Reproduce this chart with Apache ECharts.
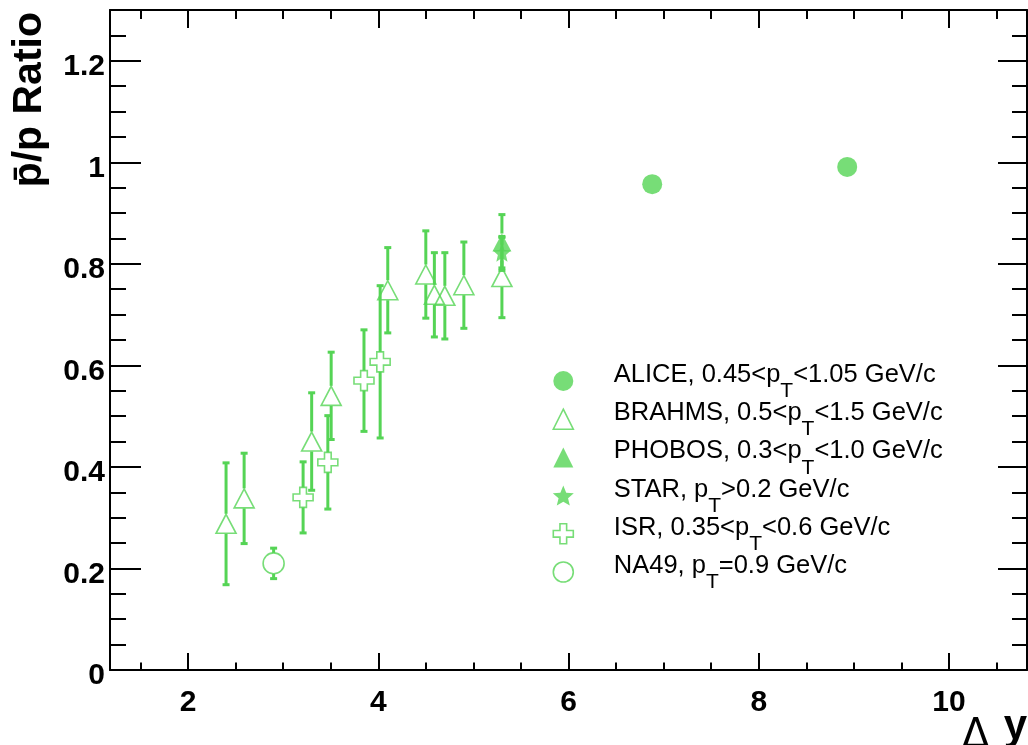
<!DOCTYPE html>
<html>
<head>
<meta charset="utf-8">
<script src="https://cdn.jsdelivr.net/npm/echarts@6/dist/echarts.min.js"></script>
<style>
  html, body { margin: 0; padding: 0; background: #ffffff; }
  #chart { width: 1028px; height: 745px; }
</style>
</head>
<body>
<div id="chart"></div>
<script>
// Antiproton-to-proton ratio versus rapidity interval, by experiment

const aliceDy = [6.88, 8.93];
const aliceRatio = [0.957, 0.991];
const aliceErr = [0.006, 0.006];

const brahmsDy = [2.40, 2.59, 3.30, 3.505, 4.10, 4.50, 4.59, 4.70, 4.90, 5.30];
const brahmsRatio = [0.288, 0.338, 0.450, 0.540, 0.748, 0.779, 0.739, 0.737, 0.758, 0.774];
const brahmsErr = [0.120, 0.089, 0.096, 0.086, 0.084, 0.086, 0.083, 0.085, 0.085, 0.080];

const phobosDy = [5.30];
const phobosRatio = [0.842];
const phobosErr = [0.055];

const starDy = [5.30];
const starRatio = [0.822];
const starErr = [0.030];

const isrDy = [3.21, 3.47, 3.85, 4.02];
const isrRatio = [0.340, 0.409, 0.570, 0.607];
const isrErr = [0.070, 0.092, 0.100, 0.150];

const na49Dy = [2.90];
const na49Ratio = [0.210];
const na49Err = [0.030];

const seriesNames = ['ALICE', 'BRAHMS', 'PHOBOS', 'STAR', 'ISR', 'NA49'];
const legendLabels = [
  '{m|ALICE, 0.45<p}{s|T}{m|<1.05 GeV/c}',
  '{m|BRAHMS, 0.5<p}{s|T}{m|<1.5 GeV/c}',
  '{m|PHOBOS, 0.3<p}{s|T}{m|<1.0 GeV/c}',
  '{m|STAR, p}{s|T}{m|>0.2 GeV/c}',
  '{m|ISR, 0.35<p}{s|T}{m|<0.6 GeV/c}',
  '{m|NA49, p}{s|T}{m|=0.9 GeV/c}'
];

const xMajorTicks = [2, 4, 6, 8, 10];
const xMinorTicks = [1.5, 2.5, 3, 3.5, 4.5, 5, 5.5, 6.5, 7, 7.5, 8.5, 9, 9.5, 10.5];
const yMajorTicks = [0, 0.2, 0.4, 0.6, 0.8, 1.0, 1.2];
const yMinorTicks = [0.05, 0.1, 0.15, 0.25, 0.3, 0.35, 0.45, 0.5, 0.55, 0.65, 0.7, 0.75,
                     0.85, 0.9, 0.95, 1.05, 1.1, 1.15, 1.25];

const GREEN = '#55d455';
const FONT = 'Liberation Sans';

const TRIANGLE = 'path://M1,0L2,2L0,2Z';
const CROSS = 'path://M1,0L2,0L2,1L3,1L3,2L2,2L2,3L1,3L1,2L0,2L0,1L1,1Z';
function starSymbol() {
  const p = [];
  for (let k = 0; k < 10; k++) {
    const a = -Math.PI / 2 + k * Math.PI / 5;
    const r = k % 2 === 0 ? 1 : 0.45;
    p.push((r * Math.cos(a)).toFixed(3) + ',' + (r * Math.sin(a)).toFixed(3));
  }
  return 'path://M' + p.join('L') + 'Z';
}
const STAR = starSymbol();

function points(xs, ys) { return xs.map((x, i) => [x, ys[i]]); }

// error bar rows: [x, y, err, gap in px around the marker]
function errRows(xs, ys, es, gap) { return xs.map((x, i) => [x, ys[i], es[i], gap]); }
const errorData = [].concat(
  errRows(aliceDy, aliceRatio, aliceErr, 10),
  errRows(brahmsDy, brahmsRatio, brahmsErr, 10),
  errRows(phobosDy, phobosRatio, phobosErr, 9),
  errRows(starDy, starRatio, starErr, 8),
  errRows(isrDy, isrRatio, isrErr, 10),
  errRows(na49Dy, na49Ratio, na49Err, 10.5)
);

function renderErrorBar(params, api) {
  const x = api.value(0), y = api.value(1), e = api.value(2), gap = api.value(3);
  const c = api.coord([x, y]);
  const top = api.coord([x, y + e])[1];
  const bot = api.coord([x, y - e])[1];
  const st = { stroke: GREEN, lineWidth: 3 };
  const cap = 3.5;
  const children = [];
  if (c[1] - gap > top) {
    children.push({ type: 'line', shape: { x1: c[0], y1: c[1] - gap, x2: c[0], y2: top }, style: st });
    children.push({ type: 'line', shape: { x1: c[0] - cap, y1: top, x2: c[0] + cap, y2: top }, style: st });
  }
  if (c[1] + gap < bot) {
    children.push({ type: 'line', shape: { x1: c[0], y1: c[1] + gap, x2: c[0], y2: bot }, style: st });
    children.push({ type: 'line', shape: { x1: c[0] - cap, y1: bot, x2: c[0] + cap, y2: bot }, style: st });
  }
  return { type: 'group', children: children };
}

const openStyle = { color: 'rgba(0,0,0,0)', borderColor: GREEN, borderWidth: 1.6 };
const filledStyle = { color: GREEN };

const tickLine = { color: '#000', width: 2 };
const tickFont = { fontFamily: FONT, fontWeight: 'bold', fontSize: 30, color: '#000' };

function xAxisDef(position, ticks, len, withLine, withLabels) {
  return {
    type: 'value', position: position, min: 1.18, max: 10.82,
    axisLine: { show: withLine, onZero: false, lineStyle: { color: '#000', width: 2 } },
    axisTick: { show: true, inside: true, length: len, customValues: ticks, lineStyle: tickLine },
    axisLabel: withLabels ? Object.assign({ show: true, customValues: ticks, margin: 18 }, tickFont)
                          : { show: false },
    splitLine: { show: false }
  };
}
function yAxisDef(position, ticks, len, withLine, withLabels) {
  return {
    type: 'value', position: position, min: 0, max: 1.3,
    axisLine: { show: withLine, onZero: false, lineStyle: { color: '#000', width: 2 } },
    axisTick: { show: true, inside: true, length: len, customValues: ticks, lineStyle: tickLine },
    axisLabel: withLabels ? Object.assign({
      show: true, customValues: ticks, margin: 5,
      formatter: v => '{t|' + (v === 0 ? '0' : String(Math.round(v * 10) / 10)) + '}',
      rich: { t: Object.assign({ lineHeight: 30, padding: [12, 0, 0, 0] }, tickFont) }
    }, tickFont) : { show: false },
    splitLine: { show: false }
  };
}

const chart = echarts.init(document.getElementById('chart'), null, { renderer: 'canvas' });

chart.setOption({
  animation: false,
  backgroundColor: '#ffffff',
  grid: { left: 110, right: 1, top: 10, bottom: 75 },
  xAxis: [
    xAxisDef('bottom', xMajorTicks, 17, true, true),
    xAxisDef('bottom', xMinorTicks, 7.5, false, false),
    xAxisDef('top', xMajorTicks, 18, true, false),
    xAxisDef('top', xMinorTicks, 9, false, false)
  ],
  yAxis: [
    yAxisDef('left', yMajorTicks, 31, true, true),
    yAxisDef('left', yMinorTicks, 16, false, false),
    yAxisDef('right', yMajorTicks, 29, true, false),
    yAxisDef('right', yMinorTicks, 15, false, false)
  ],
  legend: {
    orient: 'vertical', left: 552.5, top: 360, padding: 0, itemGap: -3.8,
    itemWidth: 91, itemHeight: 20, selectedMode: false,
    data: [
      { name: 'ALICE' },
      { name: 'BRAHMS', itemStyle: { borderWidth: 1.6 } },
      { name: 'PHOBOS' },
      { name: 'STAR' },
      { name: 'ISR', itemStyle: { borderWidth: 1.6 } },
      { name: 'NA49', itemStyle: { borderWidth: 1.6 } }
    ],
    formatter: name => legendLabels[seriesNames.indexOf(name)],
    textStyle: {
      color: '#000', fontFamily: FONT, fontSize: 25.5,
      rich: {
        m: { color: '#000', fontFamily: FONT, fontSize: 25.5, lineHeight: 26, padding: [0, 0, 12, 0] },
        s: { color: '#000', fontFamily: FONT, fontSize: 21, lineHeight: 17, padding: [21, 0, 0, 0] }
      }
    }
  },
  graphic: [
    {
      type: 'text', x: 9, y: 12, rotation: Math.PI / 2, silent: true,
      style: {
        text: 'p\u0304/p Ratio', fill: '#000', fontFamily: FONT, fontWeight: 'bold', fontSize: 41,
        align: 'right', verticalAlign: 'top'
      }
    },
    {
      type: 'text', x: 962, y: 757, silent: true,
      style: { text: '\u0394', fill: '#000', fontFamily: 'DejaVu Sans', fontSize: 40, align: 'left', verticalAlign: 'bottom' }
    },
    {
      type: 'text', x: 1027, y: 748, silent: true,
      style: { text: 'y', fill: '#000', fontFamily: FONT, fontWeight: 'bold', fontSize: 42, align: 'right', verticalAlign: 'bottom' }
    }
  ],
  series: [
    {
      name: 'errors', type: 'custom', renderItem: renderErrorBar, data: errorData,
      encode: { x: 0, y: 1 }, z: 1, silent: true
    },
    { name: 'ALICE', type: 'scatter', data: points(aliceDy, aliceRatio), symbol: 'circle', symbolSize: 20, itemStyle: filledStyle, z: 3, silent: true },
    { name: 'BRAHMS', type: 'scatter', data: points(brahmsDy, brahmsRatio), symbol: TRIANGLE, symbolSize: [20, 19], itemStyle: openStyle, z: 3, silent: true },
    { name: 'PHOBOS', type: 'scatter', data: points(phobosDy, phobosRatio), symbol: TRIANGLE, symbolSize: [19, 18], itemStyle: filledStyle, z: 3, silent: true },
    { name: 'STAR', type: 'scatter', data: points(starDy, starRatio), symbol: STAR, symbolSize: 18, itemStyle: filledStyle, z: 3, silent: true },
    { name: 'ISR', type: 'scatter', data: points(isrDy, isrRatio), symbol: CROSS, symbolSize: 20, itemStyle: openStyle, z: 3, silent: true },
    { name: 'NA49', type: 'scatter', data: points(na49Dy, na49Ratio), symbol: 'circle', symbolSize: 21, itemStyle: openStyle, z: 3, silent: true }
  ]
});
</script>
</body>
</html>
